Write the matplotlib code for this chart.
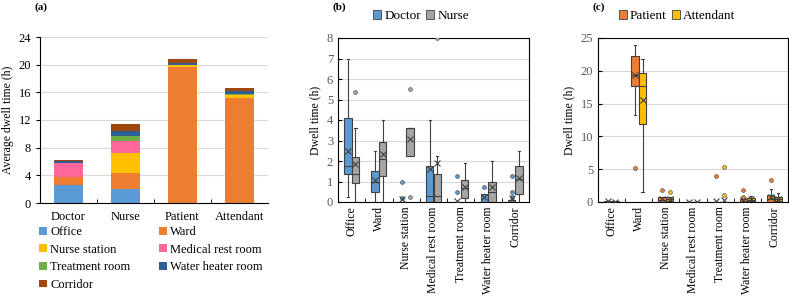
import numpy as np
import matplotlib.pyplot as plt
from matplotlib.patches import Patch

plt.rcParams['font.family'] = ['Liberation Serif', 'DejaVu Serif']
plt.rcParams['font.size'] = 8.5

# ===== data =====
rooms = ["Office", "Ward", "Nurse station", "Medical rest room",
         "Treatment room", "Water heater room", "Corridor"]
room_colors = ["#5B9BD5", "#ED7D31", "#FFC000", "#FF6699",
               "#70AD47", "#2E5F94", "#9E480E"]

# (a) average dwell time per room (h)
people = ["Doctor", "Nurse", "Patient", "Attendant"]
avg_office = [2.6, 2.0, 0.02, 0.02]
avg_ward = [1.1, 2.4, 19.6, 15.2]
avg_nurse_station = [0.05, 2.9, 0.3, 0.35]
avg_medical_rest = [2.0, 1.7, 0.0, 0.0]
avg_treatment = [0.1, 0.7, 0.05, 0.2]
avg_water_heater = [0.2, 0.7, 0.25, 0.45]
avg_corridor = [0.15, 1.05, 0.6, 0.35]

# (b) box stats, doctor / nurse
doc_q1 = [1.38, 0.5, 0.0, 0.0, 0.0, 0.0, 0.0]
doc_med = [1.75, 1.0, 0.0, 0.3, 0.0, 0.0, 0.0]
doc_q3 = [4.12, 1.5, 0.0, 1.75, 0.0, 0.4, 0.12]
doc_lo = [0.25, 0.0, 0.0, 0.0, 0.0, 0.0, 0.0]
doc_hi = [7.0, 2.5, 0.0, 4.0, 0.0, 0.4, 0.12]
doc_mean = [2.5, 1.05, 0.15, 1.62, 0.05, 0.22, 0.18]
doc_fliers = [[], [], [1.0, 0.2], [], [1.25, 0.5], [0.75], [1.25, 0.5, 0.25]]

nur_q1 = [0.95, 1.27, 2.23, 0.0, 0.2, 0.0, 0.38]
nur_med = [1.35, 2.1, 3.6, 0.3, 0.7, 0.5, 1.1]
nur_q3 = [2.2, 2.92, 3.6, 1.38, 1.08, 1.0, 1.75]
nur_lo = [0.0, 0.0, 2.23, 0.0, 0.0, 0.0, 0.0]
nur_hi = [3.6, 4.0, 3.6, 2.25, 1.92, 2.0, 2.5]
nur_mean = [1.85, 2.35, 3.05, 1.88, 0.72, 0.72, 1.15]
nur_fliers = [[5.35], [], [5.5, 0.25], [8.0], [], [], []]

# (c) box stats, patient / attendant
pat_q1 = [0.0, 17.7, 0.0, 0.0, 0.0, 0.0, 0.0]
pat_med = [0.05, 19.3, 0.3, 0.0, 0.0, 0.1, 0.5]
pat_q3 = [0.15, 22.2, 0.7, 0.0, 0.0, 0.4, 1.1]
pat_lo = [0.0, 13.2, 0.0, 0.0, 0.0, 0.0, 0.0]
pat_hi = [0.2, 24.0, 0.7, 0.0, 0.0, 0.4, 2.0]
pat_mean = [0.1, 19.4, 0.4, 0.0, 0.2, 0.3, 0.7]
pat_fliers = [[], [5.2], [1.8], [], [4.0], [1.8, 0.8], [3.3]]

att_q1 = [0.0, 11.9, 0.1, 0.0, 0.0, 0.1, 0.1]
att_med = [0.05, 17.7, 0.5, 0.0, 0.0, 0.3, 0.4]
att_q3 = [0.1, 19.6, 0.8, 0.0, 0.0, 0.6, 0.7]
att_lo = [0.0, 1.5, 0.0, 0.0, 0.0, 0.0, 0.0]
att_hi = [0.15, 21.8, 0.8, 0.0, 0.0, 0.9, 1.3]
att_mean = [0.05, 15.5, 0.5, 0.0, 0.3, 0.4, 0.5]
att_fliers = [[], [], [1.5], [], [5.3, 1.0], [], []]
# =================

W, H = 789, 296
fig = plt.figure(figsize=(W / 100, H / 100), dpi=100)


def px_axes(left, top, right, bottom):
    return fig.add_axes([left / W, 1 - bottom / H, (right - left) / W, (bottom - top) / H])


GRID = "#D9D9D9"
EDGE = "#404040"

# ---------- (a) stacked bars ----------
ax = px_axes(40, 37, 268, 203)
series = [avg_office, avg_ward, avg_nurse_station, avg_medical_rest,
          avg_treatment, avg_water_heater, avg_corridor]
x = np.arange(len(people))
bottom = np.zeros(len(people))
for name, vals, col in zip(rooms, series, room_colors):
    ax.bar(x, vals, 0.51, bottom=bottom, color=col, label=name, zorder=2)
    bottom += np.array(vals)
ax.set_ylim(0, 24)
ax.set_xlim(-0.5, 3.5)
ax.set_yticks(range(0, 25, 4))
ax.set_xticks(x)
ax.set_xticklabels(people, fontsize=9)
ax.set_xticks(np.arange(0.5, 3, 1), minor=True)
ax.tick_params(axis='x', which='major', length=0, pad=6)
ax.tick_params(axis='x', which='minor', direction='in', length=3)
ax.tick_params(axis='y', direction='out', length=3, labelsize=9)
ax.grid(axis='y', color=GRID, lw=0.8, zorder=0)
ax.spines['top'].set_visible(False)
ax.spines['right'].set_visible(False)
ax.set_ylabel("Average dwell time (h)", fontsize=8.5, labelpad=3)
fig.text(41 / W, 1 - 7 / H, "(a)", fontsize=8, fontweight='bold', ha='center', va='center')

order = [0, 2, 4, 6, 1, 3, 5]
handles = [Patch(facecolor=room_colors[i], label=rooms[i]) for i in order]
fig.legend(handles=handles, ncol=2, loc='upper left',
           bbox_to_anchor=(39 / W, 1 - 226 / H), frameon=False,
           handlelength=0.6, handleheight=0.6, handletextpad=0.3,
           columnspacing=2.3, labelspacing=0.45, fontsize=9,
           borderaxespad=0, borderpad=0)


# ---------- box plot helper ----------
def draw_boxes(ax, q1, med, q3, lo, hi, mean, fliers, pos, color):
    stats = []
    for i in range(len(q1)):
        stats.append(dict(q1=q1[i], med=med[i], q3=q3[i], whislo=lo[i],
                          whishi=hi[i], mean=mean[i], fliers=fliers[i]))
    ax.bxp(stats, positions=pos, widths=0.27, showmeans=True, patch_artist=True,
           boxprops=dict(facecolor=color, edgecolor=EDGE, lw=0.8),
           medianprops=dict(color=EDGE, lw=0.8),
           whiskerprops=dict(color=EDGE, lw=0.8),
           capprops=dict(color=EDGE, lw=0.8),
           capwidths=0.08,
           meanprops=dict(marker='x', markeredgecolor=EDGE, markersize=4.5, markeredgewidth=0.8),
           flierprops=dict(marker='o', markerfacecolor=color, markeredgecolor=EDGE,
                           markersize=2.8, markeredgewidth=0.4),
           zorder=3)


def style_box_axes(ax, ymax, step):
    ax.set_xlim(-0.5, 6.5)
    ax.set_ylim(0, ymax)
    ax.set_yticks(np.arange(0, ymax + 0.1, step))
    ax.set_xticks(np.arange(7))
    ax.set_xticklabels(rooms, rotation=90, fontsize=8.5)
    ax.set_xticks(np.arange(0.5, 6, 1), minor=True)
    ax.tick_params(axis='x', which='major', length=0, pad=3)
    ax.tick_params(axis='x', which='minor', direction='in', length=3)
    ax.tick_params(axis='y', direction='in', length=3, labelsize=9, labelcolor='#595959')
    ax.grid(axis='y', color=GRID, lw=0.8, zorder=0)
    ax.set_axisbelow(True)
    ax.set_ylabel("Dwell time (h)", fontsize=8.5, labelpad=4)


pos = np.arange(7)

# ---------- (b) ----------
axb = px_axes(338, 38, 529, 202)
draw_boxes(axb, doc_q1, doc_med, doc_q3, doc_lo, doc_hi, doc_mean, doc_fliers,
           pos - 0.14, "#5B9BD5")
draw_boxes(axb, nur_q1, nur_med, nur_q3, nur_lo, nur_hi, nur_mean, nur_fliers,
           pos + 0.14, "#A5A5A5")
style_box_axes(axb, 8, 1)
fig.text(339 / W, 1 - 7 / H, "(b)", fontsize=8, fontweight='bold', ha='center', va='center')
axb.legend(handles=[Patch(facecolor="#5B9BD5", edgecolor=EDGE, lw=0.6, label="Doctor"),
                    Patch(facecolor="#A5A5A5", edgecolor=EDGE, lw=0.6, label="Nurse")],
           ncol=2, loc='center', bbox_to_anchor=(421 / W, 1 - 16 / H),
           bbox_transform=fig.transFigure, frameon=False, fontsize=9.5,
           handlelength=0.6, handleheight=0.7, handletextpad=0.25, columnspacing=0.4)

# ---------- (c) ----------
axc = px_axes(598, 38, 788, 202)
draw_boxes(axc, pat_q1, pat_med, pat_q3, pat_lo, pat_hi, pat_mean, pat_fliers,
           pos - 0.14, "#ED7D31")
draw_boxes(axc, att_q1, att_med, att_q3, att_lo, att_hi, att_mean, att_fliers,
           pos + 0.14, "#FFC000")
style_box_axes(axc, 25, 5)
fig.text(599 / W, 1 - 7 / H, "(c)", fontsize=8, fontweight='bold', ha='center', va='center')
axc.legend(handles=[Patch(facecolor="#ED7D31", edgecolor=EDGE, lw=0.6, label="Patient"),
                    Patch(facecolor="#FFC000", edgecolor=EDGE, lw=0.6, label="Attendant")],
           ncol=2, loc='center', bbox_to_anchor=(677 / W, 1 - 16 / H),
           bbox_transform=fig.transFigure, frameon=False, fontsize=9.5,
           handlelength=0.6, handleheight=0.7, handletextpad=0.25, columnspacing=0.4)

fig.savefig("out.png", dpi=100)
